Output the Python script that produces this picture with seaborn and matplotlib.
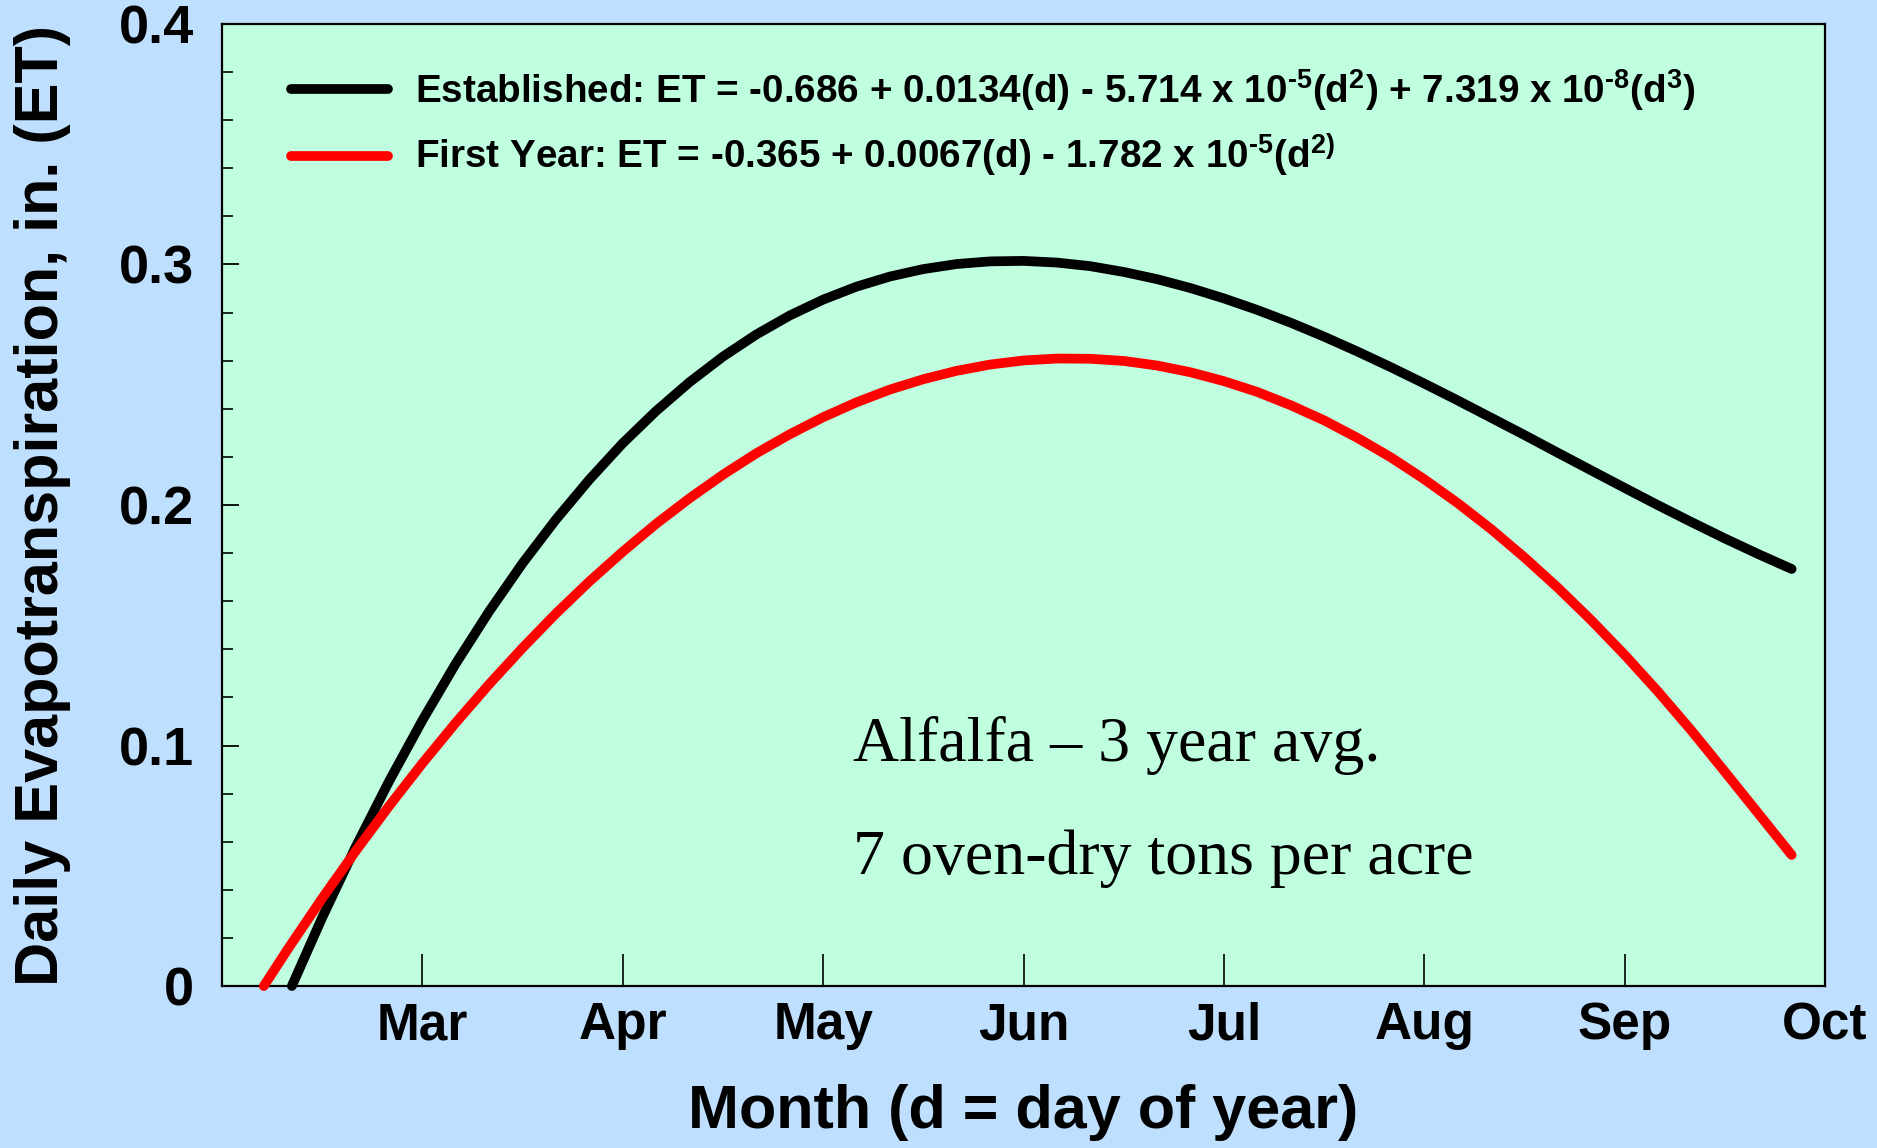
import matplotlib
matplotlib.use("Agg")
import matplotlib.pyplot as plt
import seaborn as sns
import pandas as pd
from matplotlib.ticker import FixedLocator, MultipleLocator

# Established stand: daily ET (in.) by day of year
est_day = [70.45, 75, 80, 85, 90, 95, 100, 105, 110, 115, 120, 125, 130, 135,
           140, 145, 150, 155, 160, 165, 170, 175, 180, 185, 190, 195, 200,
           205, 210, 215, 220, 225, 230, 235, 240, 245, 250, 255, 260, 265,
           270, 275, 280, 285, 290, 295]
est_et = [0.0, 0.0285, 0.0578, 0.0851, 0.1105, 0.1341, 0.1558, 0.1758, 0.1940,
          0.2106, 0.2257, 0.2391, 0.2511, 0.2617, 0.2709, 0.2788, 0.2854,
          0.2908, 0.2950, 0.2981, 0.3002, 0.3013, 0.3015, 0.3008, 0.2993,
          0.2969, 0.2939, 0.2902, 0.2859, 0.2811, 0.2758, 0.2700, 0.2638,
          0.2573, 0.2505, 0.2435, 0.2363, 0.2291, 0.2217, 0.2144, 0.2071,
          0.1999, 0.1929, 0.1861, 0.1796, 0.1734]

# First-year stand: daily ET (in.) by day of year
fy_day = [66.25, 70, 75, 80, 85, 90, 95, 100, 105, 110, 115, 120, 125, 130,
          135, 140, 145, 150, 155, 160, 165, 170, 175, 180, 185, 190, 195,
          200, 205, 210, 215, 220, 225, 230, 235, 240, 245, 250, 255, 260,
          265, 270, 275, 280, 285, 290, 295]
fy_et = [0.0, 0.0160, 0.0365, 0.0561, 0.0748, 0.0926, 0.1095, 0.1255, 0.1406,
         0.1549, 0.1682, 0.1806, 0.1922, 0.2028, 0.2126, 0.2215, 0.2294,
         0.2365, 0.2427, 0.2480, 0.2523, 0.2558, 0.2584, 0.2601, 0.2609,
         0.2608, 0.2599, 0.2580, 0.2552, 0.2515, 0.2470, 0.2415, 0.2352,
         0.2279, 0.2198, 0.2107, 0.2008, 0.1900, 0.1782, 0.1656, 0.1521,
         0.1377, 0.1224, 0.1062, 0.0891, 0.0718, 0.0545]

month_ticks = [90, 120, 150, 180, 210, 240, 270, 300]
month_labels = ["Mar", "Apr", "May", "Jun", "Jul", "Aug", "Sep", "Oct"]
et_ticks = [0.0, 0.1, 0.2, 0.3, 0.4]
et_labels = ["0", "0.1", "0.2", "0.3", "0.4"]

est_label = (r"Established: ET = -0.686 + 0.0134(d) - 5.714 x 10$^{\text{-5}}$"
             r"(d$^{2}$) + 7.319 x 10$^{\text{-8}}$(d$^{3}$)")
fy_label = (r"First Year: ET = -0.365 + 0.0067(d) - 1.782 x 10$^{\text{-5}}$"
            r"(d$^{\text{2)}}$")

sns.set_style("ticks")
plt.rcParams.update({
    "font.family": ["Liberation Sans", "DejaVu Sans"],
    "font.weight": "bold",
    "text.color": "black",
    "axes.labelcolor": "black",
    "xtick.color": "black",
    "ytick.color": "black",
    "mathtext.fontset": "custom",
    "mathtext.rm": "Liberation Sans:bold",
    "mathtext.bf": "Liberation Sans:bold",
    "mathtext.it": "Liberation Sans:bold",
    "mathtext.default": "bf",
})

fig = plt.figure(figsize=(18.77, 11.48), dpi=100, facecolor="#BFDFFF")
ax = fig.add_axes([0.1183, 0.1411, 0.854, 0.838])
ax.set_facecolor("#BFFFDF")

est_df = pd.DataFrame({"day": est_day, "et": est_et})
fy_df = pd.DataFrame({"day": fy_day, "et": fy_et})

sns.lineplot(data=est_df, x="day", y="et", ax=ax, color="black", lw=7,
             solid_capstyle="round", clip_on=False, zorder=3)
sns.lineplot(data=fy_df, x="day", y="et", ax=ax, color="#FF0000", lw=7,
             solid_capstyle="round", clip_on=False, zorder=3)

ax.set_xlim(60, 300)
ax.set_ylim(0, 0.4)

ax.xaxis.set_major_locator(FixedLocator(month_ticks))
ax.set_xticklabels(month_labels)
ax.yaxis.set_major_locator(FixedLocator(et_ticks))
ax.set_yticklabels(et_labels)
ax.yaxis.set_minor_locator(MultipleLocator(0.02))

ax.tick_params(axis="x", which="major", direction="in", length=23, width=1.2,
               pad=11, labelsize=37, colors="black")
ax.tick_params(axis="y", which="major", direction="in", length=12, width=1.3,
               pad=20, labelsize=39, colors="black")
ax.tick_params(axis="y", which="minor", direction="in", length=8, width=1.2)
for lab in ax.get_xticklabels() + ax.get_yticklabels():
    lab.set_fontweight("bold")

for sp in ax.spines.values():
    sp.set_visible(True)
    sp.set_color("black")
    sp.set_linewidth(1.6)

ax.set_xlabel("Month (d = day of year)", fontsize=44, fontweight="bold",
              va="center", color="black")
ax.xaxis.set_label_coords(0.5, -0.131)
ax.set_ylabel("Daily Evapotranspiration, in. (ET)", fontsize=44,
              fontweight="bold", va="center", color="black")
ax.yaxis.set_label_coords(-0.112, 0.5)

handles = ax.get_lines()[:2]
ax.legend(handles, [est_label, fy_label], loc="upper left",
          bbox_to_anchor=(0.043, 0.955), frameon=False, fontsize=27.8,
          handlelength=2.5, handletextpad=0.72, labelspacing=0.5,
          borderpad=0, borderaxespad=0)

ax.text(154.5, 0.0936, "Alfalfa \u2013 3 year avg.", family="Liberation Serif",
        fontsize=46, fontweight="normal", va="baseline", ha="left",
        color="black")
ax.text(154.5, 0.0466, "7 oven-dry tons per acre", family="Liberation Serif",
        fontsize=46, fontweight="normal", va="baseline", ha="left",
        color="black")

fig.savefig("out.png", dpi=100, facecolor=fig.get_facecolor())
